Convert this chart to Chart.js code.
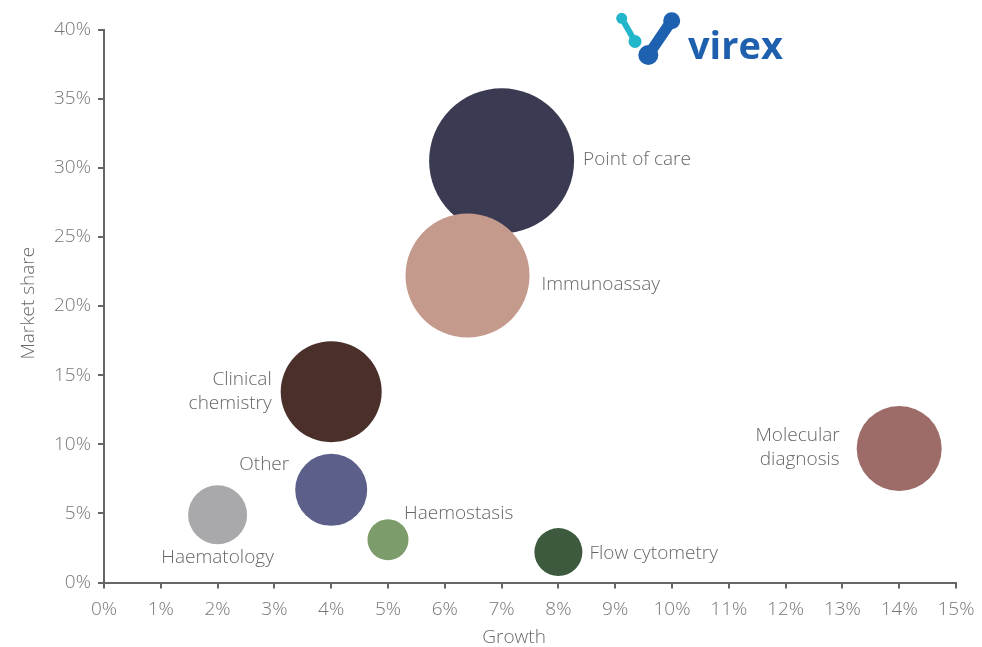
<!DOCTYPE html>
<html>
<head>
<meta charset="utf-8">
<script src="https://cdn.jsdelivr.net/npm/chart.js@4.4.1/dist/chart.umd.min.js"></script>
<style>
html,body{margin:0;padding:0;background:#ffffff;}
#wrap{position:relative;width:982px;height:647px;overflow:hidden;}
#c{display:block;}
#logo{position:absolute;left:600px;top:0px;}
</style>
</head>
<body>
<div id="wrap">
<canvas id="c" width="982" height="647"></canvas>
<svg id="logo" width="200" height="80" viewBox="0 0 200 80" xmlns="http://www.w3.org/2000/svg">
  <line x1="21.7" y1="18.3" x2="35" y2="41.5" stroke="#21b6ca" stroke-width="6" stroke-linecap="round"/>
  <circle cx="21.7" cy="18.3" r="5.5" fill="#21b6ca"/>
  <circle cx="35" cy="41.5" r="6.5" fill="#21b6ca"/>
  <line x1="71.7" y1="20.7" x2="48.3" y2="55" stroke="#1d61b0" stroke-width="11" stroke-linecap="round"/>
  <circle cx="71.7" cy="20.7" r="8.5" fill="#1d61b0"/>
  <circle cx="48.3" cy="55" r="10" fill="#1d61b0"/>
  <text x="88" y="59" font-family="'Open Sans', sans-serif" font-weight="700" font-size="38" fill="#1e60ae">virex</text>
</svg>
</div>
<script>
// ---- data ----
const categories = ['Point of care', 'Immunoassay', 'Clinical chemistry', 'Other', 'Haematology', 'Haemostasis', 'Flow cytometry', 'Molecular diagnosis'];
const growth = [7, 6.4, 4, 4, 2, 5, 8, 14];               // x, %
const marketShare = [30.5, 22.2, 13.8, 6.7, 4.9, 3.1, 2.2, 9.7]; // y, %
const bubbleSize = [72.5, 62, 50.5, 36, 29.5, 20.5, 24, 42.5];  // bubble radius
const xTickLabels = ['0%','1%','2%','3%','4%','5%','6%','7%','8%','9%','10%','11%','12%','13%','14%','15%'];
const yTickLabels = ['0%','5%','10%','15%','20%','25%','30%','35%','40%'];
const xTitle = 'Growth';
const yTitle = 'Market share';

// ---- styles ----
const bubbleColors = ['#3a3b52', '#c49a8c', '#4a2f2b', '#5b5f89', '#a9a9ab', '#7c9c6b', '#3d5a3f', '#9d6b68'];
// label placement: [anchor side (-1 left, 0 centre, 1 right of bubble), dx, dy, textAlign]
const labelPlacement = [
  [1, 9, -1, 'left'],
  [1, 12, 9, 'left'],
  [-1, -9, 0, 'right'],
  [-1, -6, -25, 'right'],
  [0, 0, 43, 'center'],
  [0, 16, -26, 'left'],
  [1, 7, 2, 'left'],
  [-1, -17, -1, 'right']
];
const labelLines = {
  'Clinical chemistry': ['Clinical', 'chemistry'],
  'Molecular diagnosis': ['Molecular', 'diagnosis']
};
const FONT = "'Open Sans', 'Liberation Sans', sans-serif";

const labelPlugin = {
  id: 'bubbleLabels',
  afterDatasetsDraw(chart) {
    const ctx = chart.ctx;
    const meta = chart.getDatasetMeta(0);
    ctx.save();
    ctx.font = '300 19px ' + FONT;
    ctx.fillStyle = '#666666';
    ctx.textBaseline = 'middle';
    meta.data.forEach((el, i) => {
      const r = el.options.radius;
      const [side, dx, dy, align] = labelPlacement[i];
      const x = el.x + side * r + dx;
      const y = el.y + dy;
      const lines = labelLines[categories[i]] || [categories[i]];
      ctx.textAlign = align;
      const lh = 24.5;
      const y0 = y - (lines.length - 1) * lh / 2;
      lines.forEach((t, k) => ctx.fillText(t, x, y0 + k * lh));
    });
    // axis titles
    const xs = chart.scales.x, ys = chart.scales.y;
    ctx.fillStyle = '#6a6a6a';
    ctx.textAlign = 'center';
    ctx.fillText(xTitle, xs.getPixelForValue(7.22), 638);
    ctx.translate(29, ys.getPixelForValue(20.2));
    ctx.rotate(-Math.PI / 2);
    ctx.fillText(yTitle, 0, 0);
    ctx.restore();
  }
};

const axisColor = '#666666';
const tickColor = '#777777';

new Chart(document.getElementById('c'), {
  type: 'bubble',
  data: {
    datasets: [{
      label: 'Segments',
      data: categories.map((c, i) => ({ x: growth[i], y: marketShare[i], r: bubbleSize[i] })),
      backgroundColor: bubbleColors,
      borderWidth: 0,
      hoverRadius: 0,
      clip: false
    }]
  },
  options: {
    responsive: false,
    animation: false,
    events: [],
    layout: { autoPadding: false, padding: { left: 0, right: 26, top: 29.5, bottom: 0 } },
    plugins: { legend: { display: false }, tooltip: { enabled: false } },
    scales: {
      x: {
        type: 'linear', min: 0, max: 15,
        ticks: {
          stepSize: 1, autoSkip: false, maxRotation: 0, padding: 10,
          color: tickColor, font: { family: FONT, size: 19, weight: '300' },
          callback: (v, i) => xTickLabels[i]
        },
        grid: { display: true, drawOnChartArea: false, drawTicks: true, tickLength: 6, color: axisColor, lineWidth: 2 },
        border: { display: true, color: axisColor, width: 2 },
        afterFit(s) { s.height = 64.5; s.paddingLeft = 0; s.paddingRight = 0; }
      },
      y: {
        type: 'linear', min: 0, max: 40,
        ticks: {
          stepSize: 5, padding: 7,
          color: tickColor, font: { family: FONT, size: 19, weight: '300' },
          callback: (v, i) => yTickLabels[i]
        },
        grid: { display: true, drawOnChartArea: false, drawTicks: true, tickLength: 6, color: axisColor, lineWidth: 2 },
        border: { display: true, color: axisColor, width: 2 },
        afterFit(s) { s.width = 104; s.paddingTop = 0; s.paddingBottom = 0; }
      }
    }
  },
  plugins: [labelPlugin]
});
</script>
</body>
</html>
